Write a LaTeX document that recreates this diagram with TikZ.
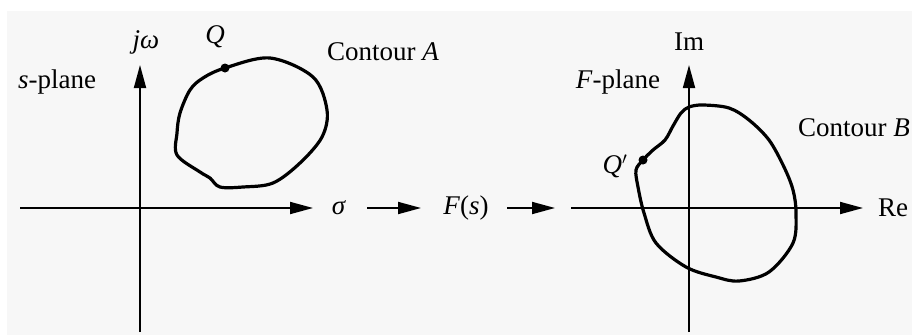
\documentclass[tikz,border=0pt]{standalone}
\usepackage{fontspec}
\setmainfont{Liberation Serif}
\usetikzlibrary{arrows.meta}
\definecolor{bgc}{RGB}{247,247,247}
\begin{document}
\begin{tikzpicture}[x=1pt,y=-1pt,
  lbl/.style={inner sep=0pt,font=\fontsize{27}{30}\selectfont},
  axis/.style={line width=1.8pt,-{Triangle[length=23pt,width=12pt]}},
  contour/.style={line width=3.2pt,line join=round},
  dotp/.style={circle,fill=black,inner sep=0pt,minimum size=9pt}]
\useasboundingbox (0,0) rectangle (912,335);
\fill[bgc] (7,11) rectangle (912,335);
% s-plane axes
\coordinate (sx0) at (20,208);
\coordinate (sx1) at (313,208);
\coordinate (sy0) at (140,332);
\coordinate (sy1) at (140,65);
\draw[axis] (sx0) -- (sx1);
\draw[axis] (sy0) -- (sy1);
% F-plane axes
\coordinate (fx0) at (571,208);
\coordinate (fx1) at (863,208);
\coordinate (fy0) at (689,332);
\coordinate (fy1) at (689,65);
\draw[axis] (fx0) -- (fx1);
\draw[axis] (fy0) -- (fy1);
% Contour A
\draw[contour] plot[smooth cycle,tension=0.55] coordinates {
 (225,68) (270,58) (313,77) (327,110) (322,137) (300,163) (273,183)
 (243,187) (220,187) (210,178) (200,172) (177,155) (177,133) (180,113)
 (190,90) (203,78)};
\node[dotp] (Qd) at (225,68) {};
% Contour B
\draw[contour] plot[smooth cycle,tension=0.55] coordinates {
 (689,107) (703,105) (729,108) (749,120) (769,140) (784,167) (793,190)
 (796,213) (793,243) (769,272) (739,281) (716,277) (686,267) (656,243)
 (644,213) (638,187) (636,170) (643,160) (653,150) (665,140) (673,126)
 (681,113)};
\node[dotp] (Qpd) at (643,160) {};
% labels
\node[lbl] (jw) at (146,42) {\textit{jω}};
\node[lbl] (Q) at (215,37) {\textit{Q}};
\node[lbl,anchor=west] (cA) at (327,52) {Contour \textit{A}};
\node[lbl,anchor=west] (sp) at (18,82) {\textit{s}-plane};
\node[lbl] (sig) at (339,208) {\textit{σ}};
\node[lbl] (Fs) at (466,208) {\textit{F}(\textit{s})};
\node[lbl] (Re) at (893,208) {Re};
\node[lbl] (Im) at (689,42) {Im};
\node[lbl] (Fp) at (618,82) {\textit{F}-plane};
\node[lbl,anchor=west] (cB) at (798,128) {Contour \textit{B}};
\node[lbl] (Qp) at (615,166) {\textit{Q}$'$};
% mapping arrows
\coordinate (a1) at (367,208);
\coordinate (a2) at (421,208);
\coordinate (b1) at (507,208);
\coordinate (b2) at (555,208);
\draw[axis] (a1) -- (a2);
\draw[axis] (b1) -- (b2);
\end{tikzpicture}
\end{document}
